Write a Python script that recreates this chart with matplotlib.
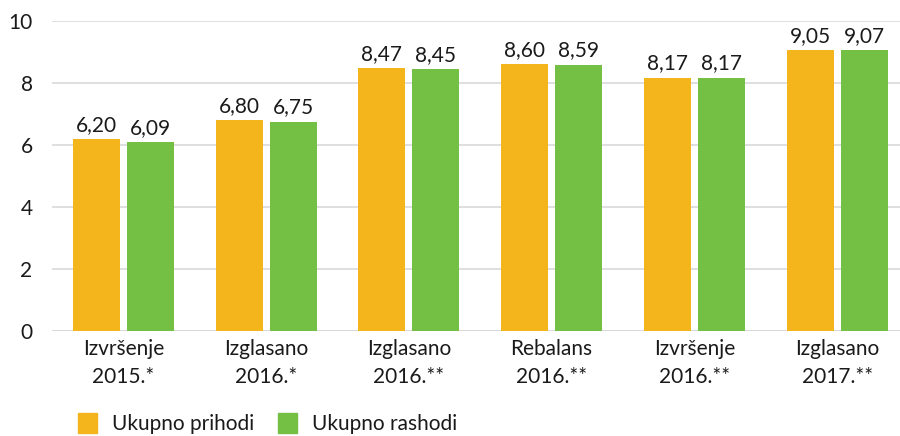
import matplotlib
matplotlib.use("Agg")
import matplotlib.pyplot as plt
import numpy as np
from matplotlib.patches import Rectangle

categories = ["Izvršenje\n2015.*", "Izglasano\n2016.*", "Izglasano\n2016.**",
              "Rebalans\n2016.**", "Izvršenje\n2016.**", "Izglasano\n2017.**"]
prihodi = [6.20, 6.80, 8.47, 8.60, 8.17, 9.05]
rashodi = [6.09, 6.75, 8.45, 8.59, 8.17, 9.07]
series_names = ["Ukupno prihodi", "Ukupno rashodi"]
yticks = [0, 2, 4, 6, 8, 10]

c_yellow = "#F4B41B"
c_green = "#74C044"
txt = "#1a1a1a"

plt.rcParams['font.family'] = ['Lato', 'DejaVu Sans']

fig = plt.figure(figsize=(9, 4.36), dpi=100)
ax = fig.add_axes([52/900, 1-331/436, 1-52/900, (331-21)/436])

x = np.arange(len(categories))
w = 0.329
off = 0.189
b1 = ax.bar(x - off, prihodi, w, color=c_yellow, zorder=3)
b2 = ax.bar(x + off, rashodi, w, color=c_green, zorder=3)

for bars, vals in ((b1, prihodi), (b2, rashodi)):
    for r, v in zip(bars, vals):
        ax.annotate(f"{v:.2f}".replace(".", ","), (r.get_x() + r.get_width()/2, v),
                    xytext=(0, 3), textcoords="offset points", ha="center", va="bottom",
                    fontsize=15, color=txt)

ax.set_xlim(-0.5, 5.44)
ax.set_ylim(0, 10)
ax.set_yticks(yticks)
ax.set_yticklabels([str(t) for t in yticks], fontsize=15, color=txt)
ax.set_xticks(x)
ax.set_xticklabels(categories, fontsize=15, color=txt, linespacing=1.5)
ax.tick_params(axis='both', length=0)
ax.tick_params(axis='y', pad=14)
ax.tick_params(axis='x', pad=6)
ax.grid(axis='y', color='#d9d9d9', linewidth=1.2, zorder=0)
for s in ax.spines.values():
    s.set_visible(False)
ax.axhline(0, color='#d9d9d9', linewidth=2, zorder=2)

# legend
for (px, label, col) in ((78, series_names[0], c_yellow), (278, series_names[1], c_green)):
    fig.patches.append(Rectangle((px/900, 1-433/436), 19/900, 20/436,
                                 transform=fig.transFigure, color=col, figure=fig))
    fig.text((px+34)/900, 1-424/436, label, fontsize=15, color=txt, va='center', ha='left')

fig.savefig("out.png", dpi=100)
